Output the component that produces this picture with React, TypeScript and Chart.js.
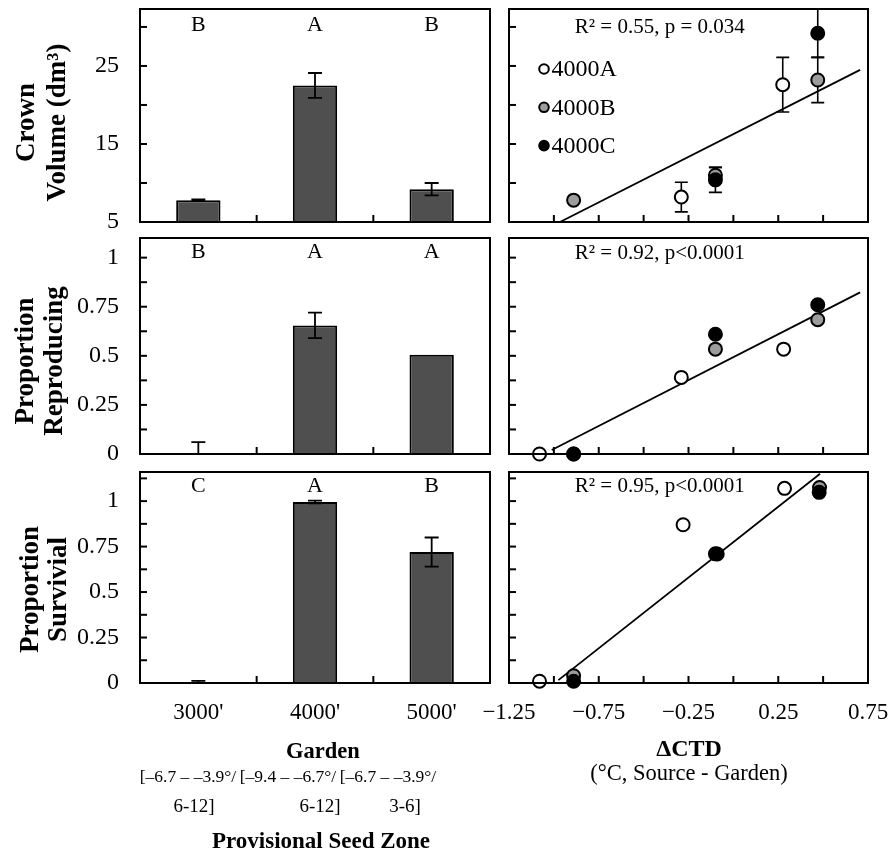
import React, { useEffect, useRef } from 'react';
import { Chart, registerables } from 'chart.js';

Chart.register(...registerables);

const SERIF = "'Liberation Serif', 'Times New Roman', Times, serif";
Chart.defaults.font.family = SERIF;
Chart.defaults.color = '#000';

// ---------------- Data ----------------
const gardens = ["3000'", "4000'", "5000'"];
const seedZoneLine1 = ['[–6.7 – –3.9°/', '[–9.4 – –6.7°/', '[–6.7 – –3.9°/'];
const seedZoneLine2 = ['6-12]', '6-12]', '3-6]'];

const crownMean = [7.8, 22.5, 9.2];
const crownSE = [0.1, 1.6, 0.8];
const crownLetters = ['B', 'A', 'B'];

const reproMean = [0, 0.655, 0.505];
const reproSE = [0.06, 0.065, 0];
const reproLetters = ['B', 'A', 'A'];

const survMean = [0.006, 0.995, 0.72];
const survSE = [0.006, 0.008, 0.08];
const survLetters = ['C', 'A', 'B'];

const seriesLabels = ['4000A', '4000B', '4000C'];

// Crown volume vs ΔCTD
const crownAx = [-0.29, 0.275];
const crownAy = [8.2, 22.6];
const crownAe = [1.9, 3.5];
const crownBx = [-0.89, -0.1, 0.47];
const crownBy = [7.8, 11.0, 23.2];
const crownBe = [0, 1.0, 2.9];
const crownCx = [-0.1, 0.47];
const crownCy = [10.4, 29.2];
const crownCe = [1.6, 3.1];
const crownFitX = [-0.966, 0.706];
const crownFitY = [5, 24.5];

// Proportion reproducing vs ΔCTD
const reproAx = [-1.08, -0.29, 0.28];
const reproAy = [0, 0.39, 0.534];
const reproBx = [-0.89, -0.1, 0.47];
const reproBy = [0, 0.534, 0.684];
const reproCx = [-0.89, -0.1, 0.47];
const reproCy = [0, 0.61, 0.76];
const reproFitX = [-1.012, 0.706];
const reproFitY = [0.02, 0.823];

// Proportion survival vs ΔCTD
const survAx = [-1.08, -0.28, 0.285];
const survAy = [0.01, 0.87, 1.07];
const survBx = [-0.89, -0.1, 0.48];
const survBy = [0.04, 0.71, 1.075];
const survCx = [-0.89, -0.09, 0.478];
const survCy = [0.01, 0.709, 1.048];
const survFitX = [-0.975, 0.483];
const survFitY = [0.016, 1.15];

// Tick labels
const crownYLabels = [5, 15, 25];
const propYLabels = [0, 0.25, 0.5, 0.75, 1];
const ctdXLabels = [-1.25, -0.75, -0.25, 0.25, 0.75];

const R2_TEXTS = ['R² = 0.55, p = 0.034', 'R² = 0.92, p<0.0001', 'R² = 0.95, p<0.0001'];

// ---------------- Helpers ----------------
const BAR_FILL = '#4f4f4f';
const GRAY_FILL = '#9c9c9c';
const FILLS = ['#ffffff', GRAY_FILL, '#000000'];

function labelCallback(list: number[], fmt: (v: number) => string) {
  return (value: any) => {
    const v = Number(value);
    const hit = list.find((l) => Math.abs(l - v) < 1e-6);
    return hit === undefined ? '' : fmt(hit);
  };
}
const fmtPlain = (v: number) => String(v);
const fmtCtd = (v: number) => (v < 0 ? '−' + Math.abs(v).toFixed(2) : v.toFixed(2));

type Decor = {
  yTitle?: string[];
  titleX?: number[];
  titleDy?: number;
  letters?: string[];
  lettersDy?: number;
  barErr?: number[];
  xTickMode: 'between' | 'all';
  note?: string;
  noteX?: number;
  noteDy?: number;
  legend?: boolean;
};

function makeDecor(s: Decor) {
  return {
    id: 'decor',
    beforeDatasetsDraw(chart: any) {
      const { ctx, chartArea: ca } = chart;
      const xs = chart.scales.x;
      const ys = chart.scales.y;
      ctx.save();
      ctx.beginPath();
      ctx.rect(ca.left, ca.top, ca.right - ca.left, ca.bottom - ca.top);
      ctx.clip();
      ctx.strokeStyle = '#000';
      ctx.lineWidth = 1.6;
      chart.data.datasets.forEach((ds: any) => {
        if (!ds.errorBars) return;
        ds.data.forEach((p: any, i: number) => {
          const e = ds.errorBars[i];
          if (!e) return;
          const px = xs.getPixelForValue(p.x);
          const y1 = ys.getPixelForValue(p.y + e);
          const y2 = ys.getPixelForValue(p.y - e);
          ctx.beginPath();
          ctx.moveTo(px, y1);
          ctx.lineTo(px, y2);
          ctx.moveTo(px - 6.5, y1);
          ctx.lineTo(px + 6.5, y1);
          ctx.moveTo(px - 6.5, y2);
          ctx.lineTo(px + 6.5, y2);
          ctx.stroke();
        });
      });
      ctx.restore();
    },
    afterDatasetsDraw(chart: any) {
      if (!s.barErr) return;
      const { ctx, chartArea: ca } = chart;
      const ys = chart.scales.y;
      const meta = chart.getDatasetMeta(0);
      const vals = chart.data.datasets[0].data;
      ctx.save();
      ctx.beginPath();
      ctx.rect(ca.left, ca.top, ca.right - ca.left, ca.bottom - ca.top);
      ctx.clip();
      ctx.strokeStyle = '#000';
      ctx.lineWidth = 1.8;
      meta.data.forEach((bar: any, i: number) => {
        const e = s.barErr![i];
        if (!e) return;
        const px = bar.x;
        const y1 = ys.getPixelForValue(vals[i] + e);
        const y2 = ys.getPixelForValue(vals[i] - e);
        ctx.beginPath();
        ctx.moveTo(px, y1);
        ctx.lineTo(px, y2);
        ctx.moveTo(px - 7, y1);
        ctx.lineTo(px + 7, y1);
        ctx.moveTo(px - 7, y2);
        ctx.lineTo(px + 7, y2);
        ctx.stroke();
      });
      ctx.restore();
    },
    afterDraw(chart: any) {
      const { ctx, chartArea: ca } = chart;
      const xs = chart.scales.x;
      const ys = chart.scales.y;
      ctx.save();
      ctx.strokeStyle = '#000';
      ctx.lineWidth = 2;
      ctx.strokeRect(ca.left, ca.top, ca.right - ca.left, ca.bottom - ca.top);
      // inward y ticks
      ys.ticks.forEach((t: any) => {
        const py = ys.getPixelForValue(t.value);
        if (py < ca.top + 2 || py > ca.bottom - 2) return;
        ctx.beginPath();
        ctx.moveTo(ca.left, py);
        ctx.lineTo(ca.left + 7, py);
        ctx.stroke();
      });
      // inward x ticks
      const xPix: number[] = [];
      if (s.xTickMode === 'between') {
        const n = chart.data.labels.length;
        for (let i = 0; i < n - 1; i++) {
          xPix.push((xs.getPixelForValue(i) + xs.getPixelForValue(i + 1)) / 2);
        }
      } else {
        xs.ticks.forEach((t: any) => xPix.push(xs.getPixelForValue(t.value)));
      }
      xPix.forEach((px) => {
        if (px < ca.left + 2 || px > ca.right - 2) return;
        ctx.beginPath();
        ctx.moveTo(px, ca.bottom);
        ctx.lineTo(px, ca.bottom - 7);
        ctx.stroke();
      });
      ctx.fillStyle = '#000';
      ctx.textBaseline = 'middle';
      // y title
      if (s.yTitle && s.titleX) {
        const cy = (ca.top + ca.bottom) / 2 + (s.titleDy || 0);
        ctx.font = `bold 27px ${SERIF}`;
        ctx.textAlign = 'center';
        s.yTitle.forEach((line, k) => {
          ctx.save();
          ctx.translate(s.titleX![k], cy);
          ctx.rotate(-Math.PI / 2);
          ctx.fillText(line, 0, 0);
          ctx.restore();
        });
      }
      // significance letters
      if (s.letters) {
        ctx.font = `22px ${SERIF}`;
        ctx.textAlign = 'center';
        s.letters.forEach((l, i) => {
          ctx.fillText(l, xs.getPixelForValue(i), ca.top + (s.lettersDy || 15));
        });
      }
      // regression note
      if (s.note !== undefined) {
        ctx.font = `21px ${SERIF}`;
        ctx.textAlign = 'center';
        ctx.fillText(s.note, xs.getPixelForValue(s.noteX || 0), ca.top + (s.noteDy || 15));
      }
      // legend
      if (s.legend) {
        const items = chart.data.datasets.filter((d: any) => d.legendItem);
        items.forEach((ds: any, k: number) => {
          const cx = ca.left + 35;
          const cy = ca.top + 60 + k * 38.3;
          ctx.beginPath();
          ctx.arc(cx, cy, 4.8, 0, Math.PI * 2);
          ctx.fillStyle = ds.backgroundColor;
          ctx.fill();
          ctx.lineWidth = 2;
          ctx.strokeStyle = '#000';
          ctx.stroke();
          ctx.fillStyle = '#000';
          ctx.font = `24px ${SERIF}`;
          ctx.textAlign = 'left';
          ctx.fillText(ds.label, cx + 7.5, cy + 1);
        });
      }
      ctx.restore();
    },
  };
}

type Box = { l: number; t: number; r: number; b: number };
type Margins = { ml: number; mt: number; mr: number; mb: number };

function Panel({ box, m, build }: { box: Box; m: Margins; build: () => any }) {
  const ref = useRef<HTMLCanvasElement>(null);
  const w = box.r - box.l + m.ml + m.mr;
  const h = box.b - box.t + m.mt + m.mb;
  useEffect(() => {
    const cfg = build();
    cfg.options.layout = { autoPadding: false, padding: { left: 0, right: m.mr, top: m.mt, bottom: 0 } };
    cfg.options.scales.x.afterFit = (sc: any) => {
      sc.height = m.mb;
    };
    cfg.options.scales.y.afterFit = (sc: any) => {
      sc.width = m.ml;
    };
    const chart = new Chart(ref.current as HTMLCanvasElement, cfg);
    return () => chart.destroy();
  }, []);
  return (
    <canvas
      ref={ref}
      width={w}
      height={h}
      style={{ position: 'absolute', left: box.l - m.ml, top: box.t - m.mt, width: w, height: h }}
    />
  );
}

const baseOptions = () => ({
  responsive: false,
  animation: false,
  devicePixelRatio: 1,
  events: [],
  plugins: { legend: { display: false }, tooltip: { enabled: false } },
});

function yAxis(min: number, max: number, step: number, labels: number[], show: boolean) {
  return {
    type: 'linear',
    min,
    max,
    grid: { display: false, drawTicks: false },
    border: { display: false },
    ticks: {
      display: show,
      stepSize: step,
      autoSkip: false,
      includeBounds: false,
      padding: 21,
      color: '#000',
      font: { size: 24, family: SERIF },
      callback: labelCallback(labels, fmtPlain),
    },
  };
}

function barConfig(
  means: number[],
  errs: number[],
  letters: string[],
  yTitle: string[],
  titleX: number[],
  titleDy: number,
  lettersDy: number,
  yMin: number,
  yMax: number,
  step: number,
  yLabels: number[],
  showX: boolean
) {
  return () => ({
    type: 'bar',
    data: {
      labels: gardens,
      datasets: [
        {
          data: means,
          backgroundColor: BAR_FILL,
          borderColor: '#000',
          borderWidth: 2,
          barPercentage: 0.38,
          categoryPercentage: 1,
        },
      ],
    },
    options: {
      ...baseOptions(),
      scales: {
        x: {
          type: 'category',
          grid: { display: false, drawTicks: false },
          border: { display: false },
          ticks: {
            display: showX,
            autoSkip: false,
            maxRotation: 0,
            padding: 16,
            color: '#000',
            font: { size: 23, family: SERIF },
          },
        },
        y: yAxis(yMin, yMax, step, yLabels, true),
      },
    },
    plugins: [
      makeDecor({ yTitle, titleX, titleDy, letters, lettersDy, barErr: errs, xTickMode: 'between' }),
    ],
  });
}

function pts(xs: number[], ys: number[]) {
  return xs.map((x, i) => ({ x, y: ys[i] }));
}

function scatterConfig(
  groups: { x: number[]; y: number[]; e?: number[] }[],
  fitX: number[],
  fitY: number[],
  note: string,
  noteDy: number,
  yMin: number,
  yMax: number,
  step: number,
  showX: boolean,
  legend: boolean
) {
  return () => ({
    type: 'scatter',
    data: {
      datasets: [
        ...groups.map((g, k) => ({
          label: seriesLabels[k],
          legendItem: true,
          data: pts(g.x, g.y),
          errorBars: g.e,
          backgroundColor: FILLS[k],
          borderColor: '#000',
          pointRadius: 6.5,
          pointBorderWidth: 2,
          pointBackgroundColor: FILLS[k],
          pointBorderColor: '#000',
          order: 3 - k,
          clip: false,
        })),
        {
          label: 'fit',
          data: pts(fitX, fitY),
          showLine: true,
          pointRadius: 0,
          borderColor: '#000',
          borderWidth: 1.8,
          order: 10,
          clip: false,
        },
      ],
    },
    options: {
      ...baseOptions(),
      scales: {
        x: {
          type: 'linear',
          min: -1.25,
          max: 0.75,
          grid: { display: false, drawTicks: false },
          border: { display: false },
          ticks: {
            display: showX,
            stepSize: 0.25,
            autoSkip: false,
            includeBounds: false,
            maxRotation: 0,
            padding: 16,
            color: '#000',
            font: { size: 23, family: SERIF },
            callback: labelCallback(ctdXLabels, fmtCtd),
          },
        },
        y: yAxis(yMin, yMax, step, [], false),
      },
    },
    plugins: [makeDecor({ xTickMode: 'all', note, noteX: -0.41, noteDy, legend })],
  });
}

const LEFT = { l: 140, r: 490 };
const RIGHT = { l: 509, r: 868 };
const ROWS = [
  { t: 9, b: 222 },
  { t: 238, b: 454 },
  { t: 472, b: 683 },
];
const mLeftTop: Margins = { ml: 140, mt: 45, mr: 45, mb: 45 };
const mLeftBot: Margins = { ml: 140, mt: 45, mr: 45, mb: 60 };
const mRightTop: Margins = { ml: 60, mt: 45, mr: 50, mb: 45 };
const mRightBot: Margins = { ml: 60, mt: 45, mr: 50, mb: 60 };

const txt = (x: number, top: number, size: number, bold = false): React.CSSProperties => ({
  position: 'absolute',
  left: x,
  top,
  transform: 'translateX(-50%)',
  fontSize: size,
  fontWeight: bold ? 700 : 400,
  lineHeight: 1,
  whiteSpace: 'nowrap',
  fontFamily: SERIF,
  color: '#000',
});

const zone1X = [188, 288, 388];
const zone2X = [194, 320, 405];

export default function App() {
  return (
    <div style={{ position: 'absolute', left: 0, top: 0, width: 892, height: 854, background: '#fff', overflow: 'hidden' }}>
      <Panel
        box={{ ...LEFT, ...ROWS[0] }}
        m={mLeftTop}
        build={barConfig(crownMean, crownSE, crownLetters, ['Crown', 'Volume (dm³)'], [27, 58], 7, 16, 5, 32.3, 5, crownYLabels, false)}
      />
      <Panel
        box={{ ...LEFT, ...ROWS[1] }}
        m={mLeftTop}
        build={barConfig(reproMean, reproSE, reproLetters, ['Proportion', 'Reproducing'], [26, 55], 15, 14, 0, 1.1, 0.125, propYLabels, false)}
      />
      <Panel
        box={{ ...LEFT, ...ROWS[2] }}
        m={mLeftBot}
        build={barConfig(survMean, survSE, survLetters, ['Proportion', 'Survivial'], [31, 59], 12, 14, 0, 1.16, 0.125, propYLabels, true)}
      />
      <Panel
        box={{ ...RIGHT, ...ROWS[0] }}
        m={mRightTop}
        build={scatterConfig(
          [
            { x: crownAx, y: crownAy, e: crownAe },
            { x: crownBx, y: crownBy, e: crownBe },
            { x: crownCx, y: crownCy, e: crownCe },
          ],
          crownFitX,
          crownFitY,
          R2_TEXTS[0],
          18,
          5,
          32.3,
          5,
          false,
          true
        )}
      />
      <Panel
        box={{ ...RIGHT, ...ROWS[1] }}
        m={mRightTop}
        build={scatterConfig(
          [
            { x: reproAx, y: reproAy },
            { x: reproBx, y: reproBy },
            { x: reproCx, y: reproCy },
          ],
          reproFitX,
          reproFitY,
          R2_TEXTS[1],
          15,
          0,
          1.1,
          0.125,
          false,
          false
        )}
      />
      <Panel
        box={{ ...RIGHT, ...ROWS[2] }}
        m={mRightBot}
        build={scatterConfig(
          [
            { x: survAx, y: survAy },
            { x: survBx, y: survBy },
            { x: survCx, y: survCy },
          ],
          survFitX,
          survFitY,
          R2_TEXTS[2],
          14,
          0,
          1.16,
          0.125,
          true,
          false
        )}
      />
      <div style={txt(323, 740, 22.5, true)}>Garden</div>
      {seedZoneLine1.map((s, i) => (
        <div key={'z1' + i} style={txt(zone1X[i], 767.5, 17.5)}>
          {s}
        </div>
      ))}
      {seedZoneLine2.map((s, i) => (
        <div key={'z2' + i} style={txt(zone2X[i], 795.5, 19)}>
          {s}
        </div>
      ))}
      <div style={txt(321, 829, 23, true)}>Provisional Seed Zone</div>
      <div style={txt(689, 736, 24, true)}>ΔCTD</div>
      <div style={txt(689, 762, 22.5)}>(°C, Source - Garden)</div>
    </div>
  );
}
